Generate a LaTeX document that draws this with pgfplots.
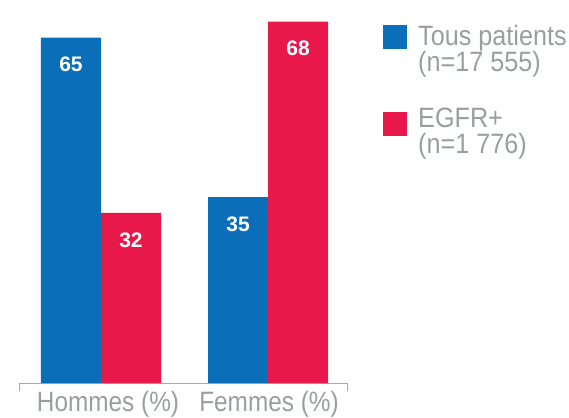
\documentclass[border=0pt]{standalone}
\usepackage{pgfplots}
\pgfplotsset{compat=1.18}
\usepackage{fontspec}
\setmainfont{Liberation Sans}
\newfontfamily\labelfont{Liberation Sans}[FakeStretch=0.87]
\newfontfamily\legfont{Liberation Sans}[FakeStretch=0.9]
\newfontfamily\numfont{Liberation Sans}
\definecolor{cblue}{HTML}{0B6EB8}
\definecolor{cred}{HTML}{E8194A}
\definecolor{tgray}{HTML}{9A9EA1}
\definecolor{lgray}{HTML}{A6A9AB}
\begin{document}
\begin{tikzpicture}
\path[use as bounding box] (-20pt,-34pt) rectangle (549pt,383pt);
\begin{axis}[
  at={(0pt,0pt)}, anchor=south west,
  scale only axis, width=327pt, height=372pt,
  ybar=0pt, bar width=60pt,
  xmin=-0.485, xmax=1.473, ymin=0, ymax=70,
  axis y line=none,
  axis x line*=bottom,
  x axis line style={lgray, line width=1pt, -},
  xtick={0.042,1.006},
  xticklabels={Hommes (\%),Femmes (\%)},
  major tick length=0pt,
  xticklabel style={anchor=base, yshift=-28.5pt, text=tgray, font=\labelfont\fontsize{28}{30}\selectfont},
  extra x ticks={-0.485,1.473},
  extra x tick labels={},
  extra x tick style={major tick length=8pt, tick align=outside, tick style={lgray, line width=1pt}},
  /pgf/number format/assume math mode=true,
  nodes near coords={\pgfmathprintnumber\pgfplotspointmeta},
  every node near coord/.append style={anchor=center, yshift=-27pt, text=white, font=\numfont\bfseries\fontsize{21}{23}\selectfont},
  clip=false,
]
\addplot[fill=cblue, draw=none] coordinates {(0,65) (1,35)};
\addplot[fill=cred, draw=none] coordinates {(0,32) (1,68)};
\end{axis}
\fill[cblue] (363pt,334pt) rectangle (387pt,358pt);
\fill[cred] (363pt,247pt) rectangle (387pt,271pt);
\begin{scope}[every node/.style={anchor=base west, inner sep=0pt, text=tgray, font=\legfont\fontsize{28}{30}\selectfont}]
\node at (398pt,337pt) {Tous patients};
\node at (398pt,311pt) {(n=17 555)};
\node at (398pt,255pt) {EGFR+};
\node at (398pt,229pt) {(n=1 776)};
\end{scope}
\end{tikzpicture}
\end{document}
